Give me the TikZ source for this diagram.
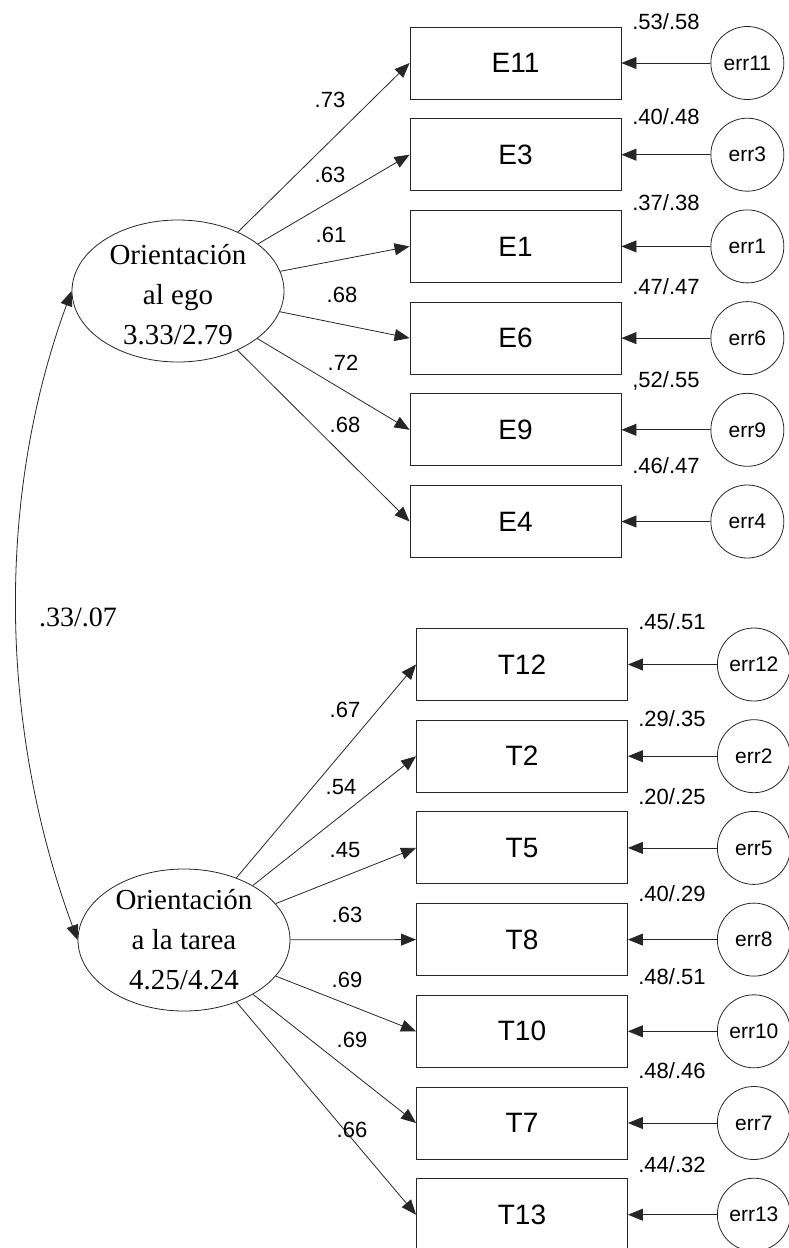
\documentclass[tikz,border=0pt]{standalone}
\usepackage{fontspec}
\setmainfont{Liberation Serif}
\setsansfont{Liberation Sans}
\usetikzlibrary{shapes.geometric, arrows.meta, positioning}
\tikzstyle{item}=[rectangle, draw=black!85, line width=0.9pt, minimum width=211pt, minimum height=72pt, font=\sffamily\fontsize{28}{30}\selectfont]
\tikzstyle{error}=[circle, draw=black!85, line width=0.8pt, minimum size=73pt, inner sep=0pt, font=\sffamily\fontsize{21}{24}\selectfont]
\tikzstyle{factor}=[ellipse, draw=black!85, line width=0.8pt, minimum width=212pt, minimum height=142pt, inner sep=0pt]
\tikzstyle{coef}=[font=\sffamily\fontsize{22}{24}\selectfont, inner sep=0pt]
\tikzstyle{arrow}=[-{Triangle[length=15pt, width=12pt]}, line width=0.8pt, draw=black!85]

\begin{document}
\begin{tikzpicture}[x=1pt, y=-1pt, node distance=18.8pt and 89pt]
\useasboundingbox (0,0) rectangle (788,1248);

% Factors
\node[factor, label={[align=center, font=\fontsize{29}{40}\selectfont, yshift=-4pt]center:Orientación\\al ego\\3.33/2.79}] (ego) at (178,291) {};
\node[factor, label={[align=center, font=\fontsize{29}{40}\selectfont]center:Orientación\\a la tarea\\4.25/4.24}] (tarea) at (184,940) {};

% Ego items
\node[item] (E11) at (515.5,63) {E11};
\node[item, below=of E11] (E3) {E3};
\node[item, below=of E3] (E1) {E1};
\node[item, below=of E1] (E6) {E6};
\node[item, below=of E6] (E9) {E9};
\node[item, below=of E9] (E4) {E4};

% Task items
\node[item] (T12) at (522,664.5) {T12};
\node[item, below=of T12] (T2) {T2};
\node[item, below=of T2] (T5) {T5};
\node[item, below=of T5] (T8) {T8};
\node[item, below=of T8] (T10) {T10};
\node[item, below=of T10] (T7) {T7};
\node[item, below=of T7] (T13) {T13};

% Errors
\node[error, right=of E11] (err11) {err11};
\node[error, right=of E3] (err3) {err3};
\node[error, right=of E1] (err1) {err1};
\node[error, right=of E6] (err6) {err6};
\node[error, right=of E9] (err9) {err9};
\node[error, right=of E4] (err4) {err4};
\node[error, right=of T12] (err12) {err12};
\node[error, right=of T2] (err2) {err2};
\node[error, right=of T5] (err5) {err5};
\node[error, right=of T8] (err8) {err8};
\node[error, right=of T10] (err10) {err10};
\node[error, right=of T7] (err7) {err7};
\node[error, right=of T13] (err13) {err13};

% Loadings
\draw[arrow] (ego) -- (E11.west);
\draw[arrow] (ego) -- (E3.west);
\draw[arrow] (ego) -- (E1.west);
\draw[arrow] (ego) -- (E6.west);
\draw[arrow] (ego) -- (E9.west);
\draw[arrow] (ego) -- (E4.west);
\draw[arrow] (tarea) -- (T12.west);
\draw[arrow] (tarea) -- (T2.west);
\draw[arrow] (tarea) -- (T5.west);
\draw[arrow] (tarea) -- (T8.west);
\draw[arrow] (tarea) -- (T10.west);
\draw[arrow] (tarea) -- (T7.west);
\draw[arrow] (tarea) -- (T13.west);

% Error paths
\draw[arrow] (err11) -- (E11);
\draw[arrow] (err3) -- (E3);
\draw[arrow] (err1) -- (E1);
\draw[arrow] (err6) -- (E6);
\draw[arrow] (err9) -- (E9);
\draw[arrow] (err4) -- (E4);
\draw[arrow] (err12) -- (T12);
\draw[arrow] (err2) -- (T2);
\draw[arrow] (err5) -- (T5);
\draw[arrow] (err8) -- (T8);
\draw[arrow] (err10) -- (T10);
\draw[arrow] (err7) -- (T7);
\draw[arrow] (err13) -- (T13);

% Correlation
\draw[arrow, {Triangle[length=15pt, width=12pt]}-{Triangle[length=15pt, width=12pt]}] (ego.west) .. controls (-5,500) and (0,730) .. (tarea.west);
\node[font=\fontsize{28}{30}\selectfont, inner sep=0pt] (corr) at (78,617) {.33/.07};

% Loading values
\node[coef] (l11) at (330,100) {.73};
\node[coef] (l3) at (330,175) {.63};
\node[coef] (l1) at (331,235) {.61};
\node[coef] (l6) at (342,295) {.68};
\node[coef] (l9) at (343,363) {.72};
\node[coef] (l4) at (345,425) {.68};
\node[coef] (l12) at (345,710) {.67};
\node[coef] (l2) at (341,787) {.54};
\node[coef] (l5) at (345,850) {.45};
\node[coef] (l8) at (347,915) {.63};
\node[coef] (l10) at (347,980) {.69};
\node[coef] (l7) at (352,1040) {.69};
\node[coef] (l13) at (352,1130) {.66};

% Error values
\node[coef] (v11) at (666,22) {.53/.58};
\node[coef] (v3) at (666,117) {.40/.48};
\node[coef] (v1) at (666,203) {.37/.38};
\node[coef] (v6) at (666,287) {.47/.47};
\node[coef] (v9) at (666,381) {,52/.55};
\node[coef] (v4) at (666,466) {.46/.47};
\node[coef] (v12) at (672,622) {.45/.51};
\node[coef] (v2) at (672,719) {.29/.35};
\node[coef] (v5) at (672,797) {.20/.25};
\node[coef] (v8) at (672,894) {.40/.29};
\node[coef] (v10) at (672,977) {.48/.51};
\node[coef] (v7) at (672,1071) {.48/.46};
\node[coef] (v13) at (672,1165) {.44/.32};

\end{tikzpicture}
\end{document}
